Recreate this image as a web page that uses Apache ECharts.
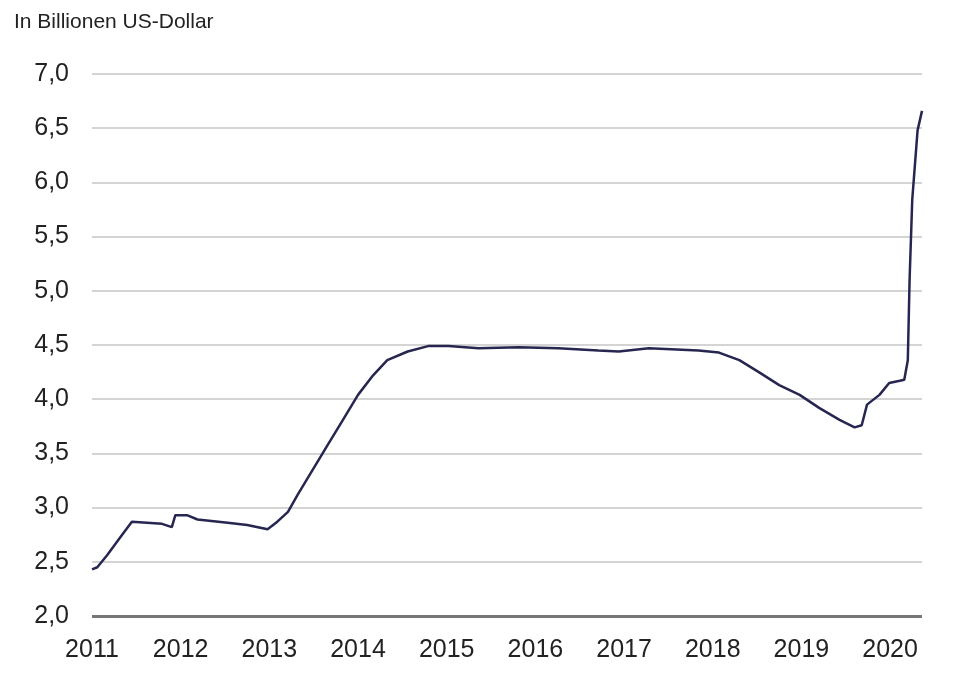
<!DOCTYPE html>
<html>
<head>
<meta charset="utf-8">
<script src="https://cdn.jsdelivr.net/npm/echarts@6/dist/echarts.min.js"></script>
<style>html,body{margin:0;background:#fff}#chart{width:960px;height:676px}</style>
</head>
<body>
<div id="chart"></div>
<script>
// Jahr (dezimal) und Bilanzsumme in Billionen US-Dollar
var years = [2011.00, 2011.06, 2011.17, 2011.34, 2011.45, 2011.62, 2011.79, 2011.90, 2011.94, 2012.07,
    2012.19, 2012.53, 2012.75, 2012.98, 2013.09, 2013.21, 2013.32, 2013.49, 2013.66, 2013.83,
    2014.00, 2014.17, 2014.33, 2014.56, 2014.79, 2015.02, 2015.36, 2015.81, 2016.26, 2016.71,
    2016.94, 2017.28, 2017.84, 2018.07, 2018.30, 2018.52, 2018.75, 2018.98, 2019.20, 2019.43,
    2019.60, 2019.68, 2019.74, 2019.88, 2019.99, 2020.11, 2020.16, 2020.20, 2020.22, 2020.25,
    2020.31, 2020.36];
var values = [2.43, 2.45, 2.56, 2.75, 2.87, 2.86, 2.85, 2.82, 2.93, 2.93,
    2.89, 2.86, 2.84, 2.80, 2.87, 2.96, 3.12, 3.35, 3.58, 3.81,
    4.04, 4.22, 4.36, 4.44, 4.49, 4.49, 4.47, 4.48, 4.47, 4.45,
    4.44, 4.47, 4.45, 4.43, 4.36, 4.25, 4.13, 4.04, 3.92, 3.81,
    3.74, 3.76, 3.95, 4.04, 4.15, 4.17, 4.18, 4.36, 5.10, 5.84,
    6.48, 6.66];
var yTicks = [2.0, 2.5, 3.0, 3.5, 4.0, 4.5, 5.0, 5.5, 6.0, 6.5, 7.0];

var seriesData = [];
for (var i = 0; i < years.length; i++) {
    seriesData.push([years[i], values[i]]);
}

var chart = echarts.init(document.getElementById('chart'));
var option = {
    animation: false,
    title: {
        text: 'In Billionen US-Dollar',
        left: 9, top: 7,
        textStyle: {fontFamily: 'Liberation Sans', fontSize: 21, fontWeight: 'normal', color: '#222'}
    },
    grid: {left: 92, right: 38, top: 74, bottom: 60},
    xAxis: {
        type: 'value',
        min: 2011, max: 2020.36, interval: 1,
        axisLine: {show: false},
        axisTick: {show: false},
        splitLine: {show: false},
        axisLabel: {
            showMaxLabel: false,
            margin: 22,
            fontFamily: 'Liberation Sans', fontSize: 25, color: '#222',
            formatter: function (v) { return String(Math.round(v)); }
        }
    },
    yAxis: {
        type: 'value',
        min: yTicks[0], max: yTicks[yTicks.length - 1], interval: 0.5,
        axisLine: {show: false},
        axisTick: {show: false},
        splitLine: {lineStyle: {color: '#d4d4d4', width: 2}},
        axisLabel: {
            margin: 23,
            fontFamily: 'Liberation Sans', fontSize: 25, color: '#222',
            formatter: function (v) { return v.toFixed(1).replace('.', ','); }
        }
    },
    series: [
        {
            type: 'line',
            data: seriesData,
            showSymbol: false,
            lineStyle: {color: '#262650', width: 2.5},
            markLine: {
                silent: true, symbol: 'none', label: {show: false},
                lineStyle: {color: '#777', width: 3, type: 'solid'},
                data: [{yAxis: yTicks[0]}]
            }
        }
    ]
};
chart.setOption(option);
</script>
</body>
</html>
